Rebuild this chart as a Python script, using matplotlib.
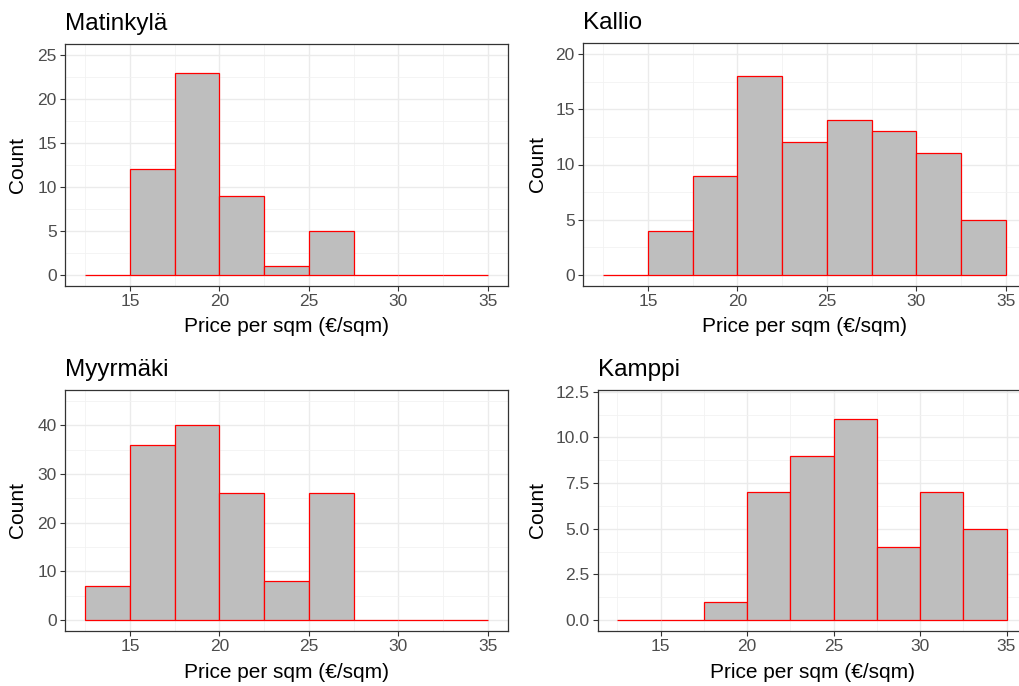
import numpy as np
import matplotlib
matplotlib.use("Agg")
from matplotlib import pyplot as plt
from matplotlib.ticker import MultipleLocator, FormatStrFormatter

plt.rcParams['font.family'] = ['Liberation Sans', 'DejaVu Sans']

# histogram bins: width 2.5 from 12.5 to 35
bin_edges = [12.5, 15, 17.5, 20, 22.5, 25, 27.5, 30, 32.5, 35]
x_ticks = [15, 20, 25, 30, 35]

areas = ["Matinkylä", "Kallio", "Myyrmäki", "Kamppi"]
counts_matinkyla = [0, 12, 23, 9, 1, 5, 0, 0, 0]
counts_kallio = [0, 4, 9, 18, 12, 14, 13, 11, 5]
counts_myyrmaki = [7, 36, 40, 26, 8, 26, 0, 0, 0]
counts_kamppi = [0, 0, 1, 7, 9, 11, 4, 7, 5]

y_top = [25, 20, 45, 12]
y_step = [5, 5, 10, 2.5]

W, H = 1019, 686
fig = plt.figure(figsize=(W / 100, H / 100), dpi=100)

# panel boxes in pixels: left, top, right, bottom
boxes = [(65, 44, 508, 286), (583, 43, 1026, 286),
         (65, 390, 508, 631), (598, 390, 1026, 631)]

all_counts = [counts_matinkyla, counts_kallio, counts_myyrmaki, counts_kamppi]

for name, counts, top, step, (l, t, r, b) in zip(areas, all_counts, y_top, y_step, boxes):
    ax = fig.add_axes([l / W, 1 - b / H, (r - l) / W, (b - t) / H])
    ax.set_axisbelow(True)
    lefts = np.array(bin_edges[:-1])
    ax.bar(lefts, counts, width=2.5, align='edge', color='#BEBEBE',
           edgecolor='red', linewidth=0.9, zorder=3)

    span = bin_edges[-1] - bin_edges[0]
    ax.xaxis.set_minor_locator(MultipleLocator(2.5))
    ax.yaxis.set_major_locator(MultipleLocator(step))
    ax.yaxis.set_minor_locator(MultipleLocator(step / 2))
    ax.set_xticks(x_ticks)
    ax.set_xlim(bin_edges[0] - 0.05 * span, bin_edges[-1] + 0.05 * span)
    ax.set_ylim(-0.05 * top, top * 1.05)
    if step == 2.5:
        ax.yaxis.set_major_formatter(FormatStrFormatter('%.1f'))

    ax.grid(which='major', color='#EBEBEB', linewidth=1.0)
    ax.grid(which='minor', color='#F2F2F2', linewidth=0.6)
    ax.tick_params(which='major', length=3.5, width=0.8, color='#333333',
                   labelcolor='#4D4D4D', labelsize=12.5, pad=2.5)
    ax.tick_params(which='minor', length=0)
    for s in ax.spines.values():
        s.set_color('#333333')
        s.set_linewidth(0.9)

    fig.text(l / W, 1 - (t - 14) / H, name, fontsize=17.5, ha='left', va='baseline')
    fig.text((l + r) / 2 / W, 1 - (b + 41) / H, "Price per sqm (€/sqm)",
             fontsize=15, ha='center', va='center')
    ylab_x = 18 if l < 300 else 537
    fig.text(ylab_x / W, 1 - (t + b) / 2 / H, "Count", fontsize=15,
             rotation=90, ha='center', va='center')

fig.savefig("out.png", dpi=100)
